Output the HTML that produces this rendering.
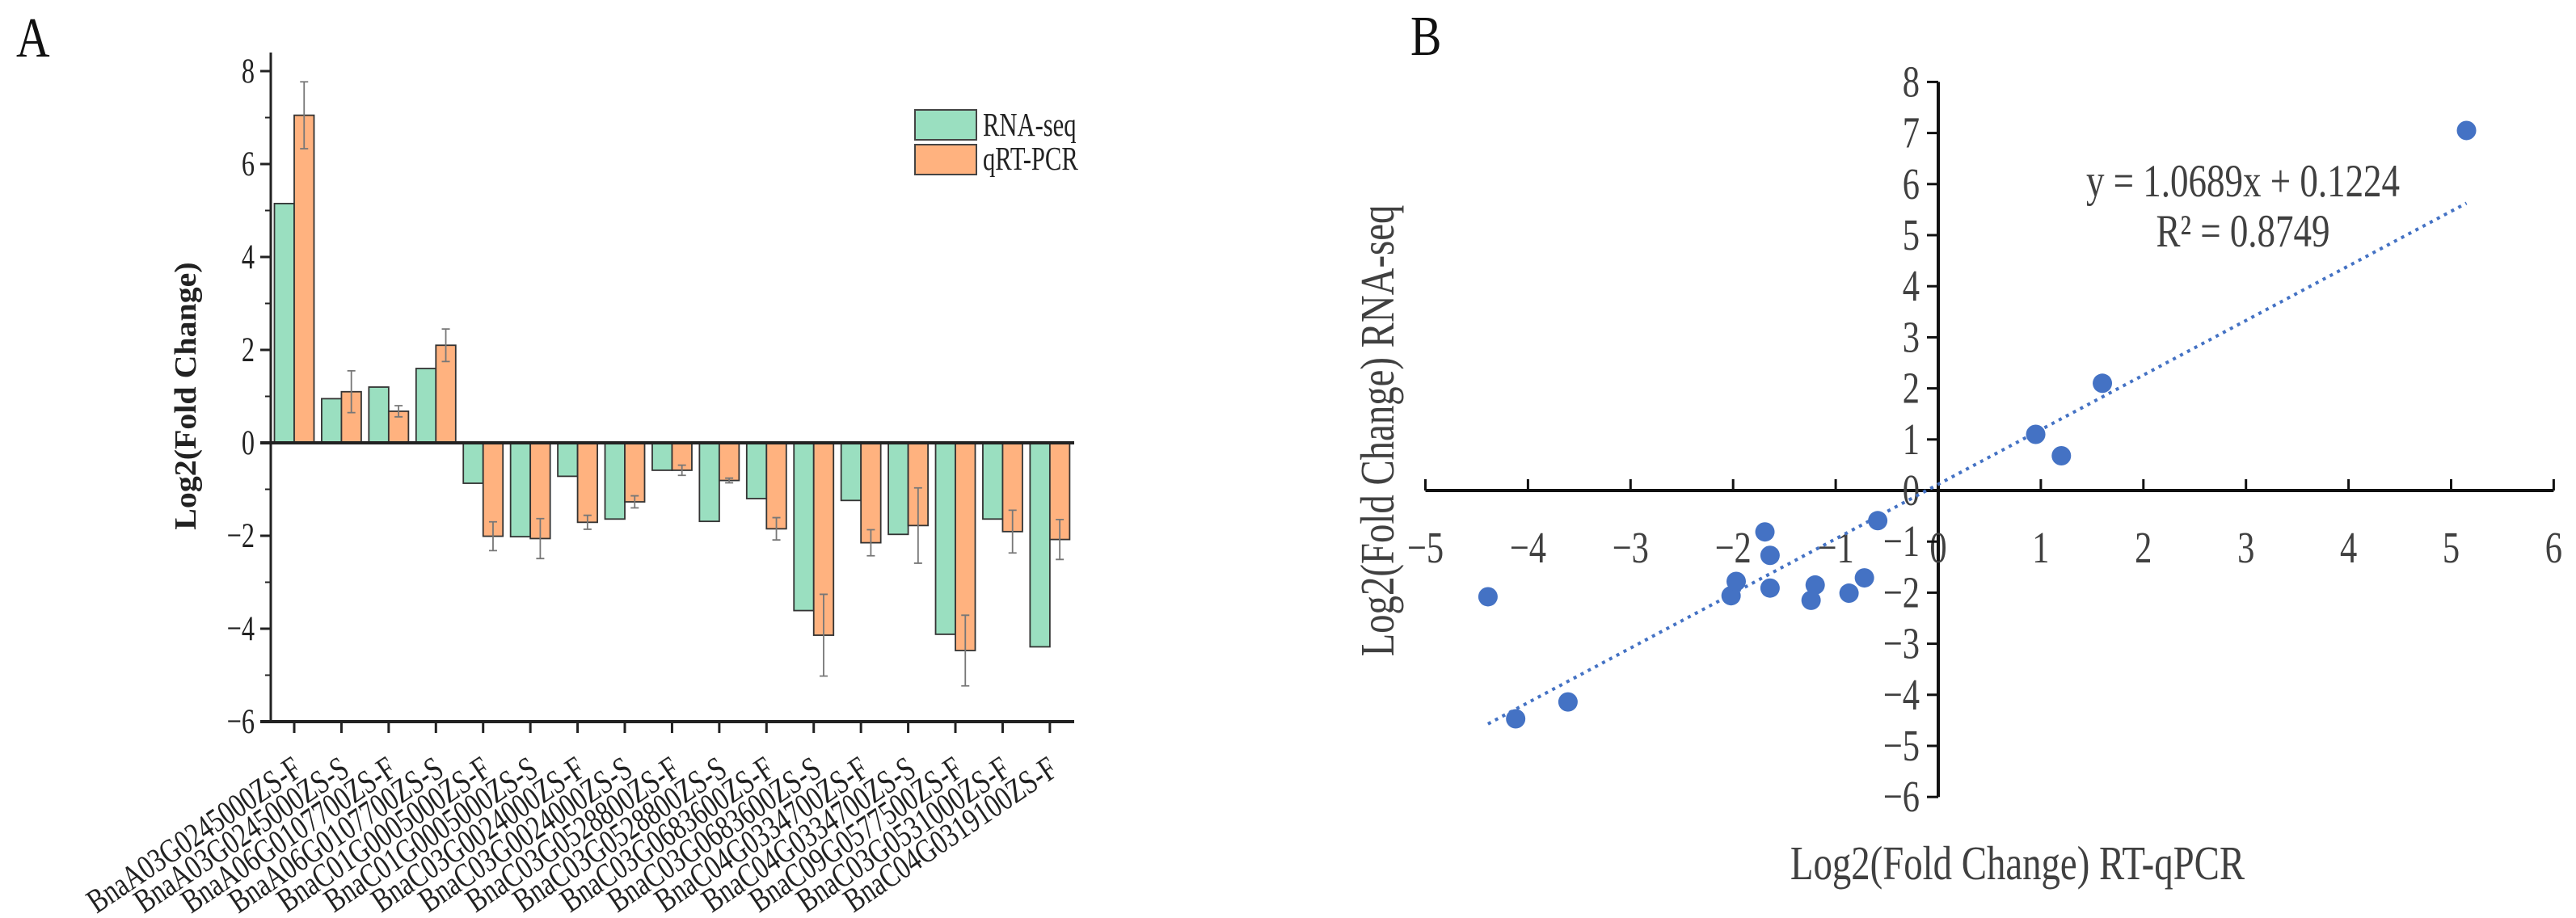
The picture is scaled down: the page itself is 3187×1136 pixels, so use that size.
<!DOCTYPE html>
<html><head><meta charset="utf-8"><style>
html,body{margin:0;padding:0;background:#fff;}
svg{display:block;font-family:"Liberation Serif",serif;}
</style></head><body>
<svg id="fig" width="3187" height="1136" viewBox="0 0 3187 1136" xmlns="http://www.w3.org/2000/svg">
<rect x="0" y="0" width="3187" height="1136" fill="#fff"/>
<text x="20" y="70" font-size="64" fill="#111" transform="translate(20 70) scale(0.9 1.1) translate(-20 -70)">A</text>
<text x="1745" y="68" font-size="64" fill="#111" transform="translate(1745 68) scale(0.9 1.1) translate(-1745 -68)">B</text>
<g id="panelA"></g>
<g id="panelB"></g>
</svg>
<script>
const genes = ["BnaA03G0245000ZS-F","BnaA03G0245000ZS-S","BnaA06G0107700ZS-F","BnaA06G0107700ZS-S","BnaC01G0005000ZS-F","BnaC01G0005000ZS-S","BnaC03G0024000ZS-F","BnaC03G0024000ZS-S","BnaC03G0528800ZS-F","BnaC03G0528800ZS-S","BnaC03G0683600ZS-F","BnaC03G0683600ZS-S","BnaC04G0334700ZS-F","BnaC04G0334700ZS-S","BnaC09G0577500ZS-F","BnaC03G0531000ZS-F","BnaC04G0319100ZS-F"];
const rnaSeq = [5.15,0.95,1.2,1.6,-0.87,-2.02,-0.72,-1.64,-0.59,-1.69,-1.2,-3.61,-1.24,-1.97,-4.12,-1.64,-4.39];
const qrtPcr = [7.05,1.1,0.68,2.1,-2.01,-2.06,-1.71,-1.27,-0.59,-0.81,-1.85,-4.14,-2.15,-1.78,-4.47,-1.91,-2.08];
const qrtErr = [0.72,0.45,0.12,0.35,0.31,0.43,0.15,0.13,0.11,0.05,0.24,0.88,0.28,0.81,0.76,0.46,0.43];
const yTicksA = [-6,-4,-2,0,2,4,6,8];
const xTicksB = [-5,-4,-3,-2,-1,0,1,2,3,4,5,6];
const yTicksB = [-6,-5,-4,-3,-2,-1,0,1,2,3,4,5,6,7,8];
const fitSlope = 1.0689, fitIntercept = 0.1224;
const eqText = "y = 1.0689x + 0.1224", r2Text = "R\u00B2 = 0.8749";

const NS="http://www.w3.org/2000/svg";
function mk(parent,tag,attrs,text){const e=document.createElementNS(NS,tag);for(const k in attrs)e.setAttribute(k,attrs[k]);if(text!==undefined)e.textContent=text;parent.appendChild(e);return e;}
function st(x,y,sx,sy,extra){return `translate(${x} ${y}) ${extra||''} scale(${sx} ${sy}) translate(${-x} ${-y})`;}

// ---- Panel A ----
const A=document.getElementById('panelA');
const ay=v=>548-v*57.5;
const ax=i=>364+i*58.43;
const axL=335, axR=1329, bw=24.5;
for(let v=-5;v<=7;v+=2){const t=mk(A,'line',{x1:axL-7,x2:axL,y1:ay(v),y2:ay(v),stroke:'#222','stroke-width':2});

}
yTicksA.forEach(v=>{
 const t=mk(A,'line',{x1:axL-13,x2:axL,y1:ay(v),y2:ay(v),stroke:'#222','stroke-width':3});
 
 
 const l=mk(A,'text',{x:axL-20,y:ay(v)+14,'font-size':38,'text-anchor':'end',fill:'#222',transform:st(axL-20,ay(v)+14,0.85,1.15)},v<0?'\u2212'+(-v):String(v));
 
 
});
genes.forEach((g,i)=>{
 const x=ax(i);
 const gv=rnaSeq[i], ov=qrtPcr[i], e=qrtErr[i];
 const gb=mk(A,'rect',{x:x-bw,y:Math.min(ay(gv),ay(0)),width:bw,height:Math.abs(ay(gv)-ay(0)),fill:'#9ADFC0',stroke:'#333','stroke-width':1.8});
 
 
 const ob=mk(A,'rect',{x:x,y:Math.min(ay(ov),ay(0)),width:bw,height:Math.abs(ay(ov)-ay(0)),fill:'#FFB27F',stroke:'#333','stroke-width':1.8});
 
 
 const cx=x+bw/2;
 const eb=mk(A,'path',{d:`M${cx},${ay(ov+e)}V${ay(ov-e)}M${cx-5},${ay(ov+e)}H${cx+5}M${cx-5},${ay(ov-e)}H${cx+5}`,stroke:'#777','stroke-width':1.8,fill:'none'});
 
 
 const tk=mk(A,'line',{x1:x,x2:x,y1:ay(-6),y2:ay(-6)+14,stroke:'#222','stroke-width':3});
 
 
 const lx=x+12, lyy=958;
 const lb=mk(A,'text',{x:lx,y:lyy,'font-size':35,'text-anchor':'end',fill:'#222',transform:st(lx,lyy,0.92,1.2,'rotate(-34)')},g);
 
 
});
const yl=mk(A,'line',{x1:axL,x2:axL,y1:ay(8.4),y2:ay(-6),stroke:'#222','stroke-width':3});


const zl=mk(A,'line',{x1:axL-13,x2:axR,y1:ay(0),y2:ay(0),stroke:'#222','stroke-width':4});


const bl=mk(A,'line',{x1:axL-13,x2:axR,y1:ay(-6),y2:ay(-6),stroke:'#222','stroke-width':4});


const ylab=mk(A,'text',{x:242,y:490,'font-size':38,'font-weight':'bold','text-anchor':'middle',fill:'#222',transform:'rotate(-90 242 490) translate(242 490) scale(1.05 1.0) translate(-242 -490)'},'Log2(Fold Change)');


const lg1=mk(A,'rect',{x:1132,y:136,width:76,height:37,fill:'#9ADFC0',stroke:'#444','stroke-width':2});


const lg2=mk(A,'rect',{x:1132,y:179,width:76,height:37,fill:'#FFB27F',stroke:'#444','stroke-width':2});


const lt1=mk(A,'text',{x:1216,y:168,'font-size':34,fill:'#222',transform:st(1216,168,0.9,1.2)},'RNA-seq');


const lt2=mk(A,'text',{x:1216,y:210,'font-size':34,fill:'#222',transform:st(1216,210,0.9,1.2)},'qRT-PCR');



// ---- Panel B ----
const B=document.getElementById('panelB');
const bx=v=>2398+v*126.9;
const by=v=>607-v*63.2;
const xa=mk(B,'line',{x1:bx(-5),x2:bx(6),y1:by(0),y2:by(0),stroke:'#111','stroke-width':4});


const ya=mk(B,'line',{x1:bx(0),x2:bx(0),y1:by(8),y2:by(-6),stroke:'#111','stroke-width':4});


xTicksB.forEach(v=>{
 const t=mk(B,'line',{x1:bx(v),x2:bx(v),y1:by(0)-14,y2:by(0),stroke:'#111','stroke-width':3});
 
 
 const l=mk(B,'text',{x:bx(v),y:696,'font-size':50,'text-anchor':'middle',fill:'#404040',transform:st(bx(v),696,0.85,1.1)},v<0?'\u2212'+(-v):String(v));
 
 
});
yTicksB.forEach(v=>{
 const t=mk(B,'line',{x1:bx(0)-14,x2:bx(0),y1:by(v),y2:by(v),stroke:'#111','stroke-width':3});
 
 
 const l=mk(B,'text',{x:2375,y:by(v)+18,'font-size':50,'text-anchor':'end',fill:'#404040',transform:st(2375,by(v)+18,0.85,1.1)},v<0?'\u2212'+(-v):String(v));
 
 
});
const xmin=Math.min(...rnaSeq), xmax=Math.max(...rnaSeq);
const fit=mk(B,'line',{x1:bx(xmin),y1:by(fitSlope*xmin+fitIntercept),x2:bx(xmax),y2:by(fitSlope*xmax+fitIntercept),stroke:'#4472C4','stroke-width':4,'stroke-dasharray':'4 6'});


rnaSeq.forEach((v,i)=>{
 const c=mk(B,'circle',{cx:bx(v),cy:by(qrtPcr[i]),r:12,fill:'#4472C4'});
 
 
});
const eq=mk(B,'text',{x:2775,y:243,'font-size':50,'text-anchor':'middle',fill:'#404040',transform:st(2775,243,0.9,1.15)},eqText);


const r2=mk(B,'text',{x:2775,y:305,'font-size':50,'text-anchor':'middle',fill:'#404040',transform:st(2775,305,0.9,1.15)},r2Text);


const xt=mk(B,'text',{x:2496,y:1088,'font-size':52,'text-anchor':'middle',fill:'#404040',transform:st(2496,1088,0.9,1.15)},'Log2(Fold  Change) RT-qPCR');


xt.setAttribute('xml:space','preserve');
const ytl=mk(B,'text',{x:1724,y:533,'font-size':52,'text-anchor':'middle',fill:'#404040',transform:'rotate(-90 1724 533) '+st(1724,533,0.9,1.15)},'Log2(Fold  Change)  RNA-seq');


ytl.setAttribute('xml:space','preserve');
</script>
</body></html>
